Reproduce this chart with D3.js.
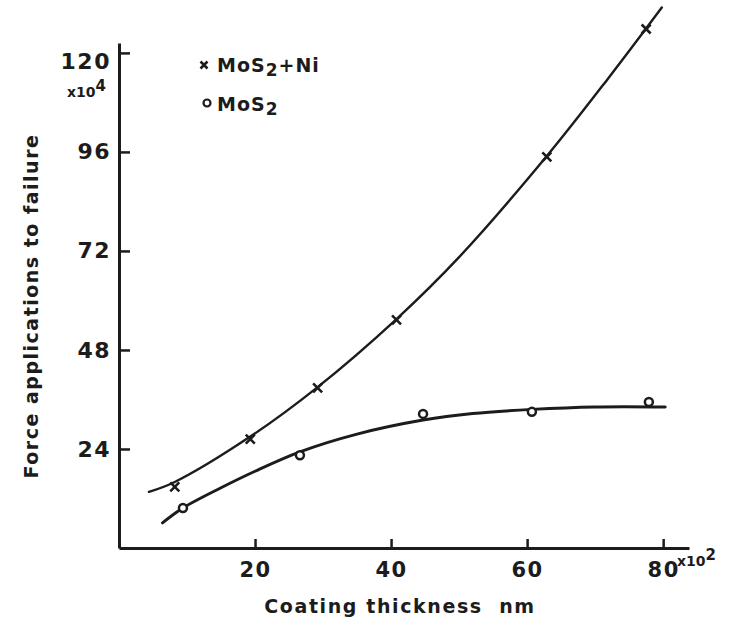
<!DOCTYPE html>
<html><head><meta charset="utf-8">
<script src="https://cdn.jsdelivr.net/npm/d3@7/dist/d3.min.js"></script>
<style>
html,body{margin:0;padding:0;background:#fff;}
svg text{font-family:"DejaVu Sans",sans-serif;fill:#1c1c1c;font-weight:bold;}
</style></head>
<body><svg id="c" width="730" height="618"></svg>
<script>
// Data (x in units of 10^2 nm, y in units of 10^4)
const xTicks = [20, 40, 60, 80];
const yTicks = [24, 48, 72, 96, 120];
const niX = [8.2, 19.3, 29.2, 40.8, 62.9, 77.5];
const niY = [14.8, 26.4, 38.8, 55.3, 94.8, 125.8];
const moX = [9.4, 26.6, 44.7, 60.7, 77.9];
const moY = [9.7, 22.5, 32.5, 33.0, 35.4];
// hand-drawn fitted curves
const niCurveX = [4.4, 8.2, 19.3, 29.2, 40.8, 50, 62.9, 72, 79.8];
const niCurveY = [13.6, 16.0, 27.0, 39.0, 55.5, 70.5, 95.0, 114.0, 131.0];
const moCurveX = [6.4, 9.4, 15, 20, 26.6, 35, 44.7, 52, 60.7, 70, 80.3];
const moCurveY = [6.1, 9.7, 14.6, 18.6, 23.3, 27.6, 31.0, 32.6, 33.6, 34.2, 34.2];
const legend = ["MoS", "+Ni"];

const svg = d3.select("#c");
const x = d3.scaleLinear().domain([0, 83.8]).range([119, 689]);
const y = d3.scaleLinear().domain([0, 122.4]).range([548, 43]);
const ink = "#1c1c1c";

// axes
const gx = svg.append("g").attr("transform", "translate(0,548)")
  .call(d3.axisBottom(x).tickValues(xTicks).tickSizeInner(-9).tickSizeOuter(0).tickPadding(14));
const gy = svg.append("g").attr("transform", "translate(119,0)")
  .call(d3.axisLeft(y).tickValues(yTicks).tickSizeInner(-11).tickSizeOuter(0).tickPadding(8));
[gx, gy].forEach(g => {
  g.select(".domain").attr("stroke", ink).attr("stroke-width", 3);
  g.selectAll(".tick line").attr("stroke", ink).attr("stroke-width", 2.5);
  g.selectAll(".tick text").attr("font-size", 21).attr("letter-spacing", 1.5).attr("fill", ink)
    .attr("font-family", "'DejaVu Sans',sans-serif").attr("font-weight", "bold");
});
gy.selectAll(".tick text").attr("font-size", 22);
gy.selectAll(".tick text").filter(d => d === 120).attr("dy", "0.7em");

// exponent labels
const e4 = svg.append("text").attr("x", 67).attr("y", 97).attr("font-size", 14);
e4.append("tspan").text("x10");
e4.append("tspan").attr("dy", -6).attr("font-size", 15).text("4");
const e2 = svg.append("text").attr("x", 677).attr("y", 566).attr("font-size", 14);
e2.append("tspan").text("x10");
e2.append("tspan").attr("dy", -6).attr("font-size", 15).text("2");

// axis titles
svg.append("text").attr("x", 400).attr("y", 613).attr("text-anchor", "middle")
  .attr("font-size", 19).attr("letter-spacing", 1.6).attr("xml:space", "preserve")
  .text("Coating thickness  nm");
svg.append("text").attr("transform", "translate(38,306) rotate(-90)").attr("text-anchor", "middle")
  .attr("font-size", 19).attr("letter-spacing", 1.5)
  .text("Force applications to failure");

// curves
const line = d3.line().x(d => x(d[0])).y(d => y(d[1])).curve(d3.curveCatmullRom.alpha(0.5));
svg.append("path").datum(niCurveX.map((v, i) => [v, niCurveY[i]]))
  .attr("d", line).attr("fill", "none").attr("stroke", ink).attr("stroke-width", 2.4).attr("stroke-linecap", "round");
svg.append("path").datum(moCurveX.map((v, i) => [v, moCurveY[i]]))
  .attr("d", line).attr("fill", "none").attr("stroke", ink).attr("stroke-width", 3).attr("stroke-linecap", "round");

// markers
function cross(g, cx, cy, s) {
  g.append("path").attr("d", `M${cx - s},${cy - s}L${cx + s},${cy + s}M${cx + s},${cy - s}L${cx - s},${cy + s}`)
    .attr("stroke", ink).attr("stroke-width", 2.6).attr("fill", "none");
}
const gm = svg.append("g");
niX.forEach((v, i) => cross(gm, x(v), y(niY[i]), 4.5));
gm.selectAll("circle").data(moX.map((v, i) => [v, moY[i]])).join("circle")
  .attr("cx", d => x(d[0])).attr("cy", d => y(d[1])).attr("r", 4)
  .attr("fill", "#fff").attr("stroke", ink).attr("stroke-width", 2.5);

// legend
cross(svg, 204, 65, 3.5);
const l1 = svg.append("text").attr("x", 217).attr("y", 72).attr("font-size", 19).attr("letter-spacing", 1);
l1.append("tspan").text(legend[0]);
l1.append("tspan").attr("dy", 4).attr("font-size", 17).text("2");
l1.append("tspan").attr("dy", -4).text(legend[1]);
svg.append("circle").attr("cx", 207).attr("cy", 103).attr("r", 3.5).attr("fill", "#fff").attr("stroke", ink).attr("stroke-width", 2.2);
const l2 = svg.append("text").attr("x", 217).attr("y", 111).attr("font-size", 19).attr("letter-spacing", 1);
l2.append("tspan").text(legend[0]);
l2.append("tspan").attr("dy", 4).attr("font-size", 17).text("2");
</script></body></html>
